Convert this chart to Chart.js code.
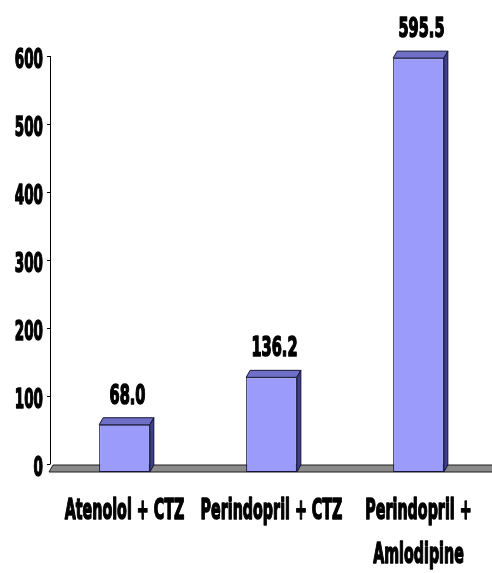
<!DOCTYPE html>
<html>
<head>
<meta charset="utf-8">
<script src="https://cdn.jsdelivr.net/npm/chart.js@4/dist/chart.umd.min.js"></script>
<style>
  html, body { margin: 0; padding: 0; background: #fff; }
  #wrap { width: 492px; height: 573px; }
</style>
</head>
<body>
<div id="wrap"><canvas id="c"></canvas></div>
<script>
const categories = [['Atenolol + CTZ'], ['Perindopril + CTZ'], ['Perindopril +', 'Amlodipine']];
const values = [68.0, 136.2, 595.5];
const valueLabels = ['68.0', '136.2', '595.5'];
const yTicks = [0, 100, 200, 300, 400, 500, 600];

const FONT = "'DejaVu Sans', sans-serif";
const DX = 4, DY = 7;

function poly(ctx, pts, fill, stroke){
  ctx.beginPath();
  ctx.moveTo(pts[0][0], pts[0][1]);
  for(let i=1;i<pts.length;i++) ctx.lineTo(pts[i][0], pts[i][1]);
  ctx.closePath();
  ctx.fillStyle = fill; ctx.fill();
  ctx.strokeStyle = stroke; ctx.lineWidth = 1; ctx.stroke();
}

// narrow, heavy text (the original uses a very condensed display face)
function narrowText(ctx, txt, x, y, size, sx, align){
  ctx.save();
  ctx.translate(x, y);
  ctx.scale(sx, 1);
  ctx.font = 'bold ' + size + 'px ' + FONT;
  ctx.textAlign = align;
  ctx.textBaseline = 'alphabetic';
  ctx.fillStyle = '#000';
  ctx.strokeStyle = '#000';
  ctx.lineWidth = 1.6;
  ctx.lineJoin = 'round';
  ctx.strokeText(txt, 0, 0);
  ctx.fillText(txt, 0, 0);
  ctx.restore();
}

const pseudo3d = {
  id: 'pseudo3d',
  beforeDatasetsDraw(chart){
    const {ctx, chartArea} = chart;
    const base = chart.scales.yb.getPixelForValue(0);
    ctx.save();
    // floor slab
    poly(ctx, [[chartArea.left-2, base], [chartArea.right+10, base], [chartArea.right+10, base-DY], [chartArea.left+2, base-DY]], '#8a8a8a', '#1e1e1e');
    // value axis on the back wall
    const y = chart.scales.y;
    const ax = chartArea.left - 1;
    ctx.strokeStyle = '#000'; ctx.lineWidth = 1;
    ctx.beginPath();
    ctx.moveTo(ax+0.5, y.getPixelForValue(yTicks[yTicks.length-1]));
    ctx.lineTo(ax+0.5, y.getPixelForValue(0));
    yTicks.forEach(v => {
      const py = Math.round(y.getPixelForValue(v)) + 0.5;
      ctx.moveTo(ax-3, py); ctx.lineTo(ax+0.5, py);
    });
    ctx.stroke();
    ctx.restore();
    // tick labels
    yTicks.forEach(v => {
      narrowText(ctx, String(v), ax - 7, y.getPixelForValue(v) + 12, 27, 0.5, 'right');
    });
  },
  afterDatasetsDraw(chart){
    const {ctx} = chart;
    const meta = chart.getDatasetMeta(0);
    ctx.save();
    meta.data.forEach((bar, i) => {
      const l = bar.x - bar.width/2, r = bar.x + bar.width/2, t = bar.y, b = bar.base;
      poly(ctx, [[l, t], [r, t], [r+DX, t-DY], [l+DX, t-DY]], '#6f6fc6', '#15153a');
      poly(ctx, [[r, t], [r+DX, t-DY], [r+DX, b-DY], [r, b]], '#3e3e8c', '#15153a');
    });
    ctx.restore();
    meta.data.forEach((bar, i) => {
      narrowText(ctx, valueLabels[i], bar.x + 3, bar.y - 21, 26, 0.56, 'center');
      categories[i].forEach((line, k) => {
        narrowText(ctx, line, bar.x, 519 + k * 44, 28, 0.51, 'center');
      });
    });
  }
};

new Chart(document.getElementById('c'), {
  type: 'bar',
  data: {
    labels: categories,
    datasets: [{
      data: values,
      yAxisID: 'yb',
      backgroundColor: '#9b9bfb',
      borderColor: '#15153a',
      borderWidth: 1,
      borderSkipped: false,
      barPercentage: 0.345,
      categoryPercentage: 1
    }]
  },
  options: {
    responsive: true,
    maintainAspectRatio: false,
    animation: false,
    layout: { padding: { top: 50, right: -5, left: 0, bottom: 0 } },
    plugins: { legend: { display: false }, tooltip: { enabled: false } },
    scales: {
      x: {
        grid: { display: false },
        border: { display: false },
        ticks: { display: false },
        afterFit(s){ s.height = 101; s.paddingLeft = 0; s.paddingRight = 0; }
      },
      y: {
        min: -11.8,
        max: 608.8,
        grid: { display: false },
        border: { display: false },
        afterBuildTicks(s){ s.ticks = yTicks.map(v => ({ value: v })); },
        ticks: { display: false },
        afterFit(s){ s.width = 51; }
      },
      yb: {
        display: false,
        min: 0,
        max: 607.2
      }
    }
  },
  plugins: [pseudo3d]
});
</script>
</body>
</html>
